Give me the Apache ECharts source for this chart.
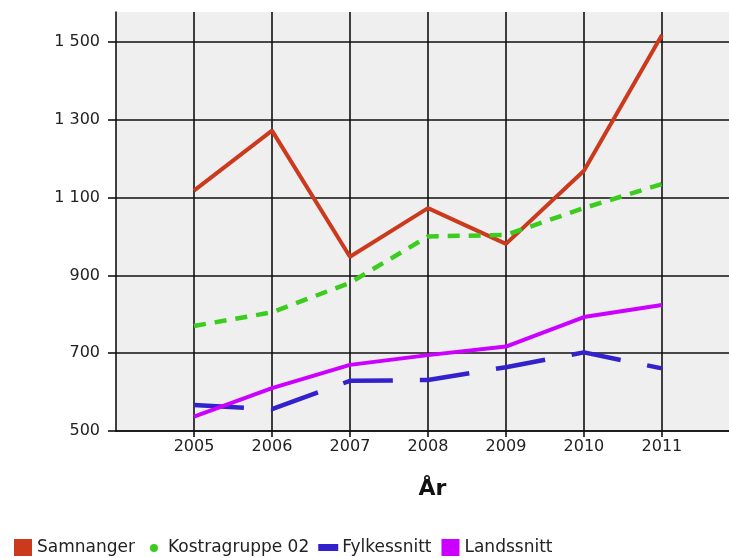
<!DOCTYPE html>
<html lang="no">
<head>
    <meta charset="UTF-8">
    <title>Samnanger</title>
    <style>
        html, body { margin: 0; padding: 0; background: #fff; }
    </style>
</head>
<body>
<div id="main" style="width: 729px;height:558px;"></div>
<script src="https://cdn.jsdelivr.net/npm/echarts@6/dist/echarts.min.js"></script>
<script>
    // data
    var years = [2005, 2006, 2007, 2008, 2009, 2010, 2011];
    var yTicks = [500, 700, 900, 1100, 1300, 1500];
    var samnanger = [1118, 1272, 948, 1073, 981, 1169, 1518];
    var kostragruppe = [770, 805, 881, 1000, 1004, 1073, 1135];
    var fylkessnitt = [567, 556, 629, 631, 664, 702, 661];
    var landssnitt = [537, 610, 670, 695, 717, 793, 824];

    function pairs(vals) {
        return years.map(function (y, i) { return [y, vals[i]]; });
    }

    // "1 500" style thousands separator
    function fmt(v) {
        if (v < 1000) return String(v);
        var rest = String(v % 1000);
        while (rest.length < 3) rest = '0' + rest;
        return Math.floor(v / 1000) + ' ' + rest;
    }

    var font = 'DejaVu Sans';
    var gridColor = '#111';

    var myChart = echarts.init(document.getElementById('main'));
    var option = {
        animation: false,
        backgroundColor: '#fff',
        grid: {
            left: 116, right: 0, top: 12, bottom: 127,
            show: true,
            backgroundColor: '#efefef',
            borderWidth: 0
        },
        legend: {
            left: 8,
            bottom: -4,
            itemWidth: 20,
            itemHeight: 18,
            itemGap: 9,
            textStyle: { fontFamily: font, fontSize: 17, color: '#222', padding: [6, 0, 0, -1] },
            data: [
                { name: 'Samnanger', icon: 'path://M0,0M20,18M1,0h18v17h-18z' },
                { name: 'Kostragruppe 02', icon: 'path://M0,0M20,18M10,5a4,4 0 1,0 0.01,0z' },
                { name: 'Fylkessnitt', icon: 'path://M0,0M20,18M0,5h20v7h-20z' },
                { name: 'Landssnitt', icon: 'path://M0,0M20,18M1,0h18v17h-18z' }
            ]
        },
        xAxis: {
            type: 'value',
            min: 2004,
            max: 2011.86,
            name: 'År',
            nameLocation: 'middle',
            nameGap: 47,
            nameTextStyle: { fontFamily: font, fontSize: 22, fontWeight: 'bold', color: '#111', padding: [0, 0, 0, 20] },
            axisLine: { show: true, lineStyle: { color: gridColor, width: 1.6 } },
            axisTick: { show: true, length: 6, customValues: years, lineStyle: { color: gridColor, width: 1.6 } },
            axisLabel: {
                customValues: years,
                margin: 8,
                fontFamily: font, fontSize: 16, color: '#222',
                formatter: function (v) { return String(v); }
            },
            splitLine: { show: true, lineStyle: { color: gridColor, width: 1.6 } }
        },
        yAxis: {
            type: 'value',
            min: 500,
            max: 1577,
            axisLine: { show: true, lineStyle: { color: gridColor, width: 1.6 } },
            axisTick: { show: true, length: 8, customValues: yTicks, lineStyle: { color: gridColor, width: 1.6 } },
            axisLabel: {
                customValues: yTicks,
                margin: 16,
                fontFamily: font, fontSize: 16, color: '#222',
                formatter: fmt
            },
            splitLine: { show: true, lineStyle: { color: gridColor, width: 1.6 } }
        },
        series: [
            {
                name: 'Samnanger', type: 'line', symbol: 'none',
                data: pairs(samnanger),
                itemStyle: { color: '#cc3a1e' },
                lineStyle: { color: '#cc3a1e', width: 4 }
            },
            {
                name: 'Kostragruppe 02', type: 'line', symbol: 'none',
                data: pairs(kostragruppe),
                itemStyle: { color: '#3ccc1e' },
                lineStyle: { color: '#3ccc1e', width: 4.5, type: [12, 9] }
            },
            {
                name: 'Fylkessnitt', type: 'line', symbol: 'none',
                data: pairs(fylkessnitt),
                itemStyle: { color: '#3322cc' },
                lineStyle: { color: '#3322cc', width: 4.5, type: [50, 27] }
            },
            {
                name: 'Landssnitt', type: 'line', symbol: 'none',
                data: pairs(landssnitt),
                itemStyle: { color: '#cc00ff' },
                lineStyle: { color: '#cc00ff', width: 4 }
            }
        ]
    };
    myChart.setOption(option);
</script>
</body>
</html>
